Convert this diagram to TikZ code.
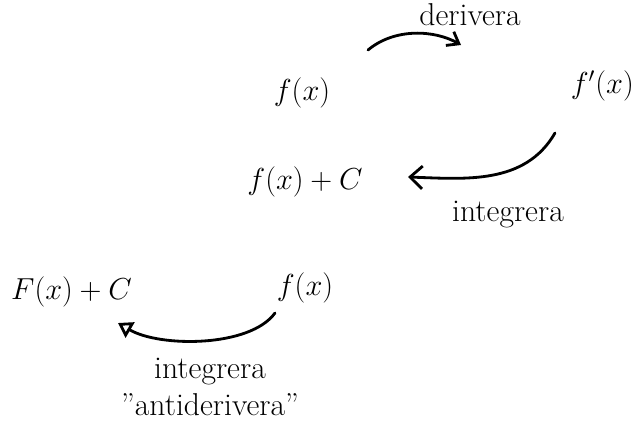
\documentclass[tikz,border=0pt]{standalone}
\usepackage{xcolor}
\usepackage{tikz}
\usetikzlibrary{positioning, arrows.meta}
\usepackage{amsmath}

\begin{document}
\begin{tikzpicture}[
    expr/.style={font=\fontsize{18}{22}\selectfont},
    word/.style={font=\fontsize{18}{22}\selectfont},
    arc/.style={line width=1.6pt, line cap=round},
]
\useasboundingbox (0,0) rectangle (12.84,-8.6);

\node[expr] (fa) at (6.04, -1.86) {$f(x)$};
\node[expr, anchor=east] (fd) at (12.8, -1.72) {$f'(x)$};
\node[word] (der) at (9.4, -0.3) {derivera};

\node[expr] (fc) at (6.1, -3.64) {$f(x)+C$};
\node[word] (int1) at (10.16, -4.3) {integrera};

\node[expr, anchor=west] (Fc) at (0.1, -5.84) {$F(x)+C$};
\node[expr] (fb) at (6.1, -5.76) {$f(x)$};
\node[word] (int2) at (4.2, -7.44) {integrera};
\node[word] (anti) at (4.2, -8.1) {''antiderivera''};

% arc ends
\coordinate (d0) at (7.36, -1.0);
\coordinate (d1) at (9.22, -0.9);
\coordinate (i0) at (11.1, -2.66);
\coordinate (i1) at (8.16, -3.54);
\coordinate (j0) at (5.5, -6.26);
\coordinate (j1) at (2.36, -6.46);

\draw[arc, -{Straight Barb[length=6pt, width=9pt]}] (d0) .. controls (7.9,-0.55) and (8.7,-0.6) .. (d1);
\draw[arc, -{Straight Barb[length=7pt, width=13pt]}] (i0) .. controls (10.5,-3.7) and (9.3,-3.58) .. (i1);
\draw[arc, -{Triangle[open, length=8pt, width=10pt]}] (j0) .. controls (5.0,-6.95) and (3.2,-6.95) .. (j1);
\end{tikzpicture}
\end{document}
